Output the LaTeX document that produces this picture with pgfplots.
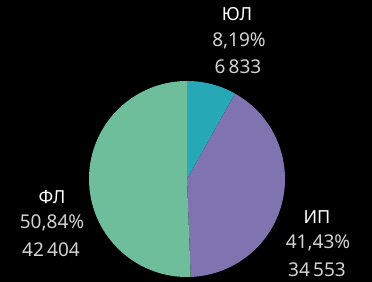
\documentclass[border=0pt]{standalone}
\usepackage{pgfplots}
\usepackage{pgfplotstable}
\pgfplotsset{compat=1.18}
\usepackage{fontspec}
\setmainfont{Noto Sans}
\definecolor{cUL}{HTML}{26A8B7}
\definecolor{cIP}{HTML}{8074B0}
\definecolor{cFL}{HTML}{6EBE9B}
\definecolor{txt}{HTML}{D2D2D2}
\pgfplotstableread{
value pct
6833 8.19
34553 41.43
42404 50.84
}\piedata
\begin{document}
\begin{tikzpicture}
\fill[black] (0,0) rectangle (372bp,282bp);
\pgfplotstablegetelem{0}{pct}\of\piedata \let\va\pgfplotsretval
\pgfplotstablegetelem{1}{pct}\of\piedata \let\vb\pgfplotsretval
\pgfplotstablegetelem{2}{pct}\of\piedata \let\vc\pgfplotsretval
\pgfmathsetmacro\tot{\va+\vb+\vc}
\pgfmathsetmacro\aA{90-360*\va/\tot}
\pgfmathsetmacro\aB{\aA-360*\vb/\tot}
\begin{axis}[x=1bp,y=1bp,xmin=0,xmax=372,ymin=0,ymax=282,hide axis,clip=false,
  anchor=origin, at={(0,0)}]
\fill[cUL] (axis cs:187,103) -- ++(90:98bp) arc[start angle=90,end angle=\aA,radius=98bp] -- cycle;
\fill[cIP] (axis cs:187,103) -- ++(\aA:98bp) arc[start angle=\aA,end angle=\aB,radius=98bp] -- cycle;
\fill[cFL] (axis cs:187,103) -- ++(\aB:98bp) arc[start angle=\aB,end angle=-270,radius=98bp] -- cycle;
\begin{scope}[every node/.style={font=\fontsize{19bp}{21bp}\selectfont,text=txt,inner sep=0pt}]
\node[text=white,font=\fontsize{18bp}{20bp}\selectfont\bfseries] at (axis cs:237,268) {ЮЛ};
\node at (axis cs:239,241) {8,19\%};
\node at (axis cs:238,215) {6\,833};
\node[text=white,font=\fontsize{18bp}{20bp}\selectfont\bfseries] at (axis cs:52,85) {ФЛ};
\node at (axis cs:52,59) {50,84\%};
\node at (axis cs:51,32) {42\,404};
\node[text=white,font=\fontsize{18bp}{20bp}\selectfont\bfseries] at (axis cs:317,65) {ИП};
\node at (axis cs:318,39) {41,43\%};
\node at (axis cs:317,12) {34\,553};
\end{scope}
\end{axis}
\end{tikzpicture}
\end{document}
